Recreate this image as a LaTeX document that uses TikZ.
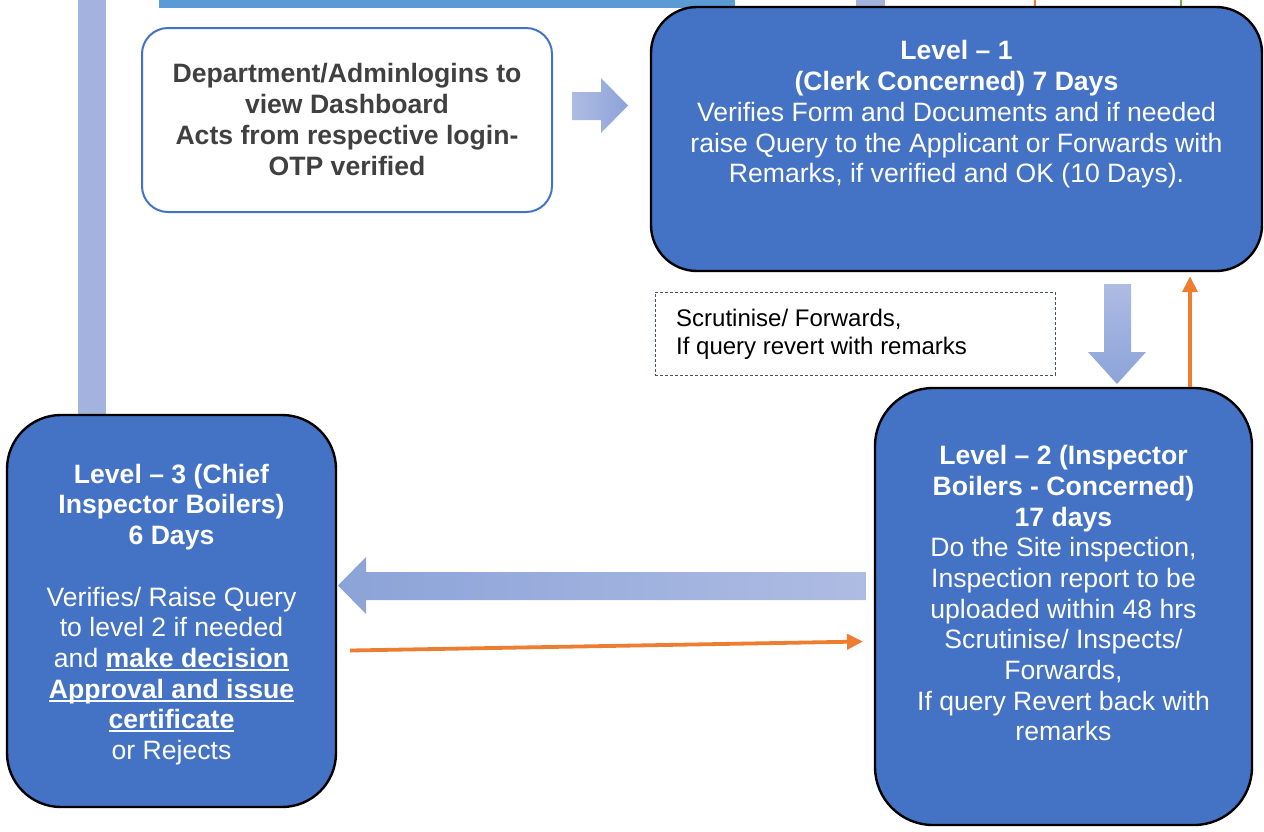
\documentclass[tikz,border=0pt]{standalone}
\usepackage{fontspec}
\setmainfont{Liberation Sans}
\usetikzlibrary{arrows.meta,calc}

\definecolor{boxblue}{RGB}{68,114,196}
\definecolor{barblue}{RGB}{91,155,213}
\definecolor{lav}{RGB}{163,179,222}
\definecolor{lavlight}{RGB}{174,188,227}
\definecolor{lavdark}{RGB}{140,163,216}
\definecolor{orangeC}{RGB}{237,125,49}
\definecolor{greenC}{RGB}{112,173,71}
\definecolor{darktext}{RGB}{64,64,64}
\definecolor{dashgray}{RGB}{68,84,106}

% underline drawn as a rule just below the baseline
\newcommand\uln[1]{\setbox0\hbox{#1}\rlap{\rule[-3.6pt]{\wd0}{2.2pt}}\box0}

\tikzset{
  lvlbox/.style={draw=black, line width=2.4pt, fill=boxblue, inner sep=0pt},
  lvltext/.style={text=white, align=center, inner sep=0pt,
    font=\fontsize{26.6pt}{30.7pt}\selectfont},
  oarr/.style={draw=orangeC, line width=3.8pt,
    -{Triangle[length=16pt,width=15pt]}},
}

\begin{document}
\begin{tikzpicture}[x=1pt,y=-1pt]
\useasboundingbox (0,0) rectangle (1264,831);

% edges of items continuing above the top
\fill[lav] (78,-2) rectangle (106,416);
\fill[barblue] (159,-2) rectangle (735,8);
\fill[lav] (856,-2) rectangle (885,12);
\draw[orangeC, line width=2pt] (1035,-2) -- (1035,12);
\draw[greenC, line width=2pt] (1181,-2) -- (1181,12);

% department login box
\node[draw=boxblue, line width=2pt, fill=white, rounded corners=26pt,
      minimum width=410pt, minimum height=184pt, inner sep=0pt] (dept) at (347,120) {};
\node[text=darktext, align=center, inner sep=0pt,
      font=\bfseries\fontsize{26.6pt}{30.7pt}\selectfont] (depttext) at (347,119.5)
  {Department/Adminlogins to\\view Dashboard\\Acts from respective login-\\OTP verified};

% block arrow towards level 1
\shade[left color=lavlight, right color=lavdark]
  (572,92) -- (601,92) -- (601,78) -- (628,105.5) -- (601,133) -- (601,120) -- (572,120) -- cycle;

% level 1
\node[lvlbox, rounded corners=46pt, minimum width=611pt, minimum height=264pt] (l1) at (956.5,139) {};
\node[lvltext] (l1text) at (956.5,114.5)
  {\textbf{Level – 1}\\\textbf{(Clerk Concerned) 7 Days}\\Verifies Form and Documents and if needed\\raise Query to the Applicant or Forwards with\\Remarks, if verified and OK (10 Days).};

% note box
\node[draw=dashgray, dashed, dash pattern=on 3pt off 2pt, line width=0.8pt,
      minimum width=400pt, minimum height=83pt, inner sep=0pt] (note) at (855,333.5) {};
\node[anchor=west, align=left, inner sep=0pt,
      font=\fontsize{24pt}{28pt}\selectfont] (notetext) at (676,334.5)
  {Scrutinise/ Forwards,\\If query revert with remarks};

% block arrow from level 1 down to level 2
\shade[top color=lavlight, bottom color=lavdark]
  (1104,284) -- (1131,284) -- (1131,352) -- (1146,352) -- (1117,384) -- (1088,352) -- (1104,352) -- cycle;

% level 2
\node[lvlbox, rounded corners=58pt, minimum width=377pt, minimum height=437pt] (l2) at (1063.5,606.5) {};
\node[lvltext] (l2text) at (1063.5,593.3)
  {\textbf{Level – 2 (Inspector}\\\textbf{Boilers - Concerned)}\\\textbf{17 days}\\Do the Site inspection,\\Inspection report to be\\uploaded within 48 hrs\\Scrutinise/ Inspects/\\Forwards,\\If query Revert back with\\remarks};

% query path from level 2 back to level 1
\coordinate (upx) at (1190,0);
\draw[oarr, shorten >=4pt] (l2.north -| upx) -- (l1.south -| upx);

% level 3
\node[lvlbox, rounded corners=54pt, minimum width=329pt, minimum height=392pt] (l3) at (171.5,611) {};
\node[lvltext] (l3text) at (171.5,614.5)
  {\textbf{Level – 3 (Chief}\\\textbf{Inspector Boilers)}\\\textbf{6 Days}\\[30.7pt]Verifies/ Raise Query\\to level 2 if needed\\and \textbf{\uln{make decision}}\\\textbf{\uln{Approval and issue}}\\\textbf{\uln{certificate}}\\or Rejects};

% block arrow from level 2 to level 3
\shade[left color=lavdark, right color=lavlight]
  (866,572) -- (366,572) -- (366,557) -- (338,585.5) -- (366,614) -- (366,600) -- (866,600) -- cycle;

% query path from level 3 back to level 2
\coordinate (qs) at (350,650.5);
\coordinate (qe) at (863,641.5);
\draw[oarr] (qs) -- (qe);
\end{tikzpicture}
\end{document}
